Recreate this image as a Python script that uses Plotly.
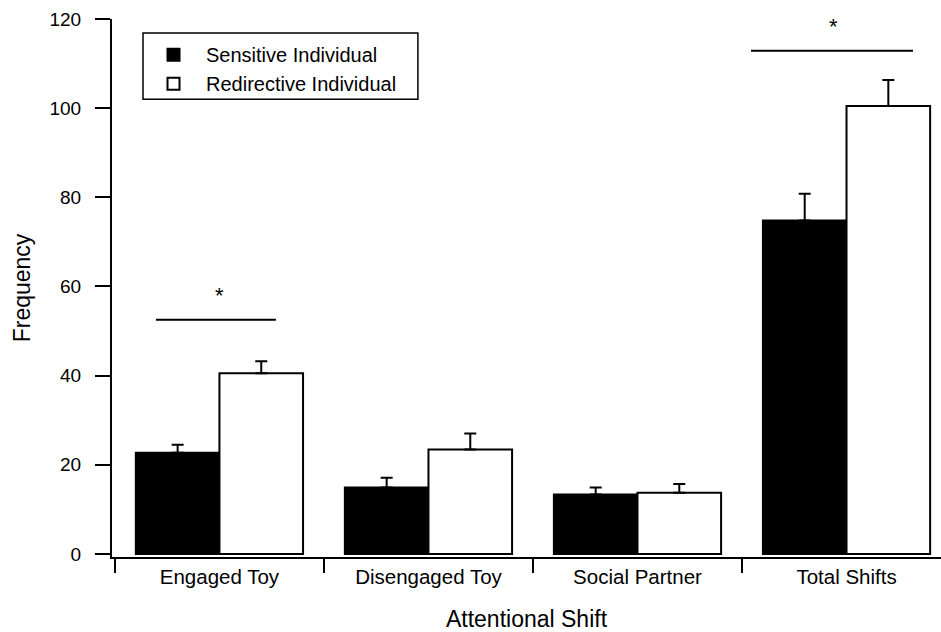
import plotly.graph_objects as go

categories = ["Engaged Toy", "Disengaged Toy", "Social Partner", "Total Shifts"]
sensitive = [22.7, 14.9, 13.3, 74.8]
sensitive_err = [1.8, 2.2, 1.6, 6.0]
redirective = [40.5, 23.4, 13.7, 100.5]
redirective_err = [2.7, 3.6, 2.0, 5.8]
y_ticks = [0, 20, 40, 60, 80, 100, 120]

FONT = "Liberation Sans, Arial, sans-serif"

fig = go.Figure()
fig.add_trace(go.Bar(
    x=categories, y=sensitive, name="Sensitive Individual",
    marker=dict(color="black", line=dict(color="black", width=2)),
    error_y=dict(type="data", symmetric=False, array=sensitive_err,
                 arrayminus=[0] * len(sensitive_err),
                 color="black", thickness=2, width=6),
))
fig.add_trace(go.Bar(
    x=categories, y=redirective, name="Redirective Individual",
    marker=dict(color="white", line=dict(color="black", width=2)),
    error_y=dict(type="data", symmetric=False, array=redirective_err,
                 arrayminus=[0] * len(redirective_err),
                 color="black", thickness=2, width=6),
))

# significance brackets
sig = [(-0.304, 0.270, 52.5, 0.0, 58.0), (2.543, 3.318, 112.9, 2.94, 118.3)]
for x0, x1, yl, xa, ya in sig:
    fig.add_shape(type="line", x0=x0, x1=x1, y0=yl, y1=yl, xref="x", yref="y",
                  line=dict(color="black", width=2))
    fig.add_annotation(x=xa, y=ya, text="*", showarrow=False, xref="x", yref="y",
                       font=dict(size=22, color="black", family=FONT))

# legend frame
fig.add_shape(type="rect", xref="paper", yref="paper",
              x0=0.0374, x1=0.369, y0=0.851, y1=0.974,
              line=dict(color="black", width=1.5), fillcolor="rgba(0,0,0,0)")

fig.update_layout(
    width=941, height=632,
    margin=dict(l=112, r=0, t=19, b=75),
    paper_bgcolor="white", plot_bgcolor="white",
    barmode="group", bargap=0.2, bargroupgap=0,
    font=dict(family=FONT, color="black", size=18),
    showlegend=True,
    legend=dict(x=0.035, y=0.970, xanchor="left", yanchor="top",
                borderwidth=0, bgcolor="rgba(0,0,0,0)", itemwidth=55,
                font=dict(size=20, family=FONT, color="black"),
                tracegroupgap=0),
    xaxis=dict(
        type="category", range=[-0.514, 3.452], automargin=False,
        showline=True, linecolor="black", linewidth=2,
        ticks="outside", tickson="boundaries", ticklen=14, tickwidth=2, tickcolor="black",
        showgrid=False, zeroline=False,
        tickfont=dict(size=20.5, family=FONT, color="black"),
        title=dict(text="Attentional Shift", font=dict(size=23, family=FONT, color="black"), standoff=27),
    ),
    yaxis=dict(
        range=[-0.7, 120], tickvals=y_ticks, automargin=False,
        showline=True, linecolor="black", linewidth=2,
        ticks="outside", ticklen=15, tickwidth=2, tickcolor="black",
        showgrid=False, zeroline=False, ticklabelstandoff=10,
        tickfont=dict(size=19, family=FONT, color="black"),
        title=dict(text="Frequency", font=dict(size=23, family=FONT, color="black"), standoff=12),
    ),
)

fig.write_html("out.html", config={"displayModeBar": False})

# remove the default page margin so the figure fills the window exactly
with open("out.html", "r", encoding="utf-8") as f:
    html = f.read()
html = html.replace("<head>", "<head><style>html,body{margin:0;padding:0;overflow:hidden;}</style>", 1)
with open("out.html", "w", encoding="utf-8") as f:
    f.write(html)
